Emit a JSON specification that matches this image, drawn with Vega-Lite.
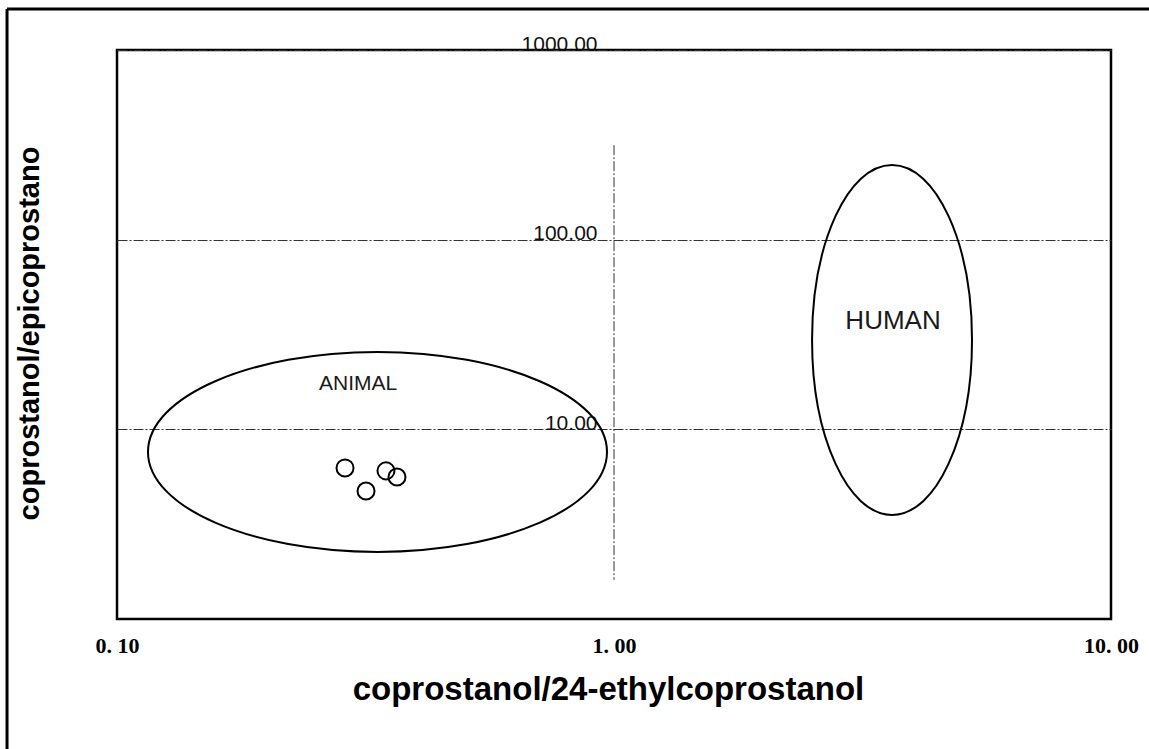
{
  "$schema": "https://vega.github.io/schema/vega-lite/v6.json",
  "width": 994,
  "height": 569,
  "autosize": {"type": "none"},
  "padding": {"left": 117, "top": 50, "right": 38, "bottom": 130},
  "background": "white",
  "config": {
    "view": {"stroke": "#000000", "strokeWidth": 2.5},
    "font": "Liberation Sans"
  },
  "datasets": {
    "points": [
      {"ratio_ethyl": 0.2876, "ratio_epi": 6.26},
      {"ratio_ethyl": 0.3170, "ratio_epi": 4.73},
      {"ratio_ethyl": 0.3477, "ratio_epi": 6.04},
      {"ratio_ethyl": 0.3659, "ratio_epi": 5.61}
    ],
    "regions": [
      {"region": "ANIMAL", "cx": 0.3343, "cy": 7.60, "lx": 0.3055, "ly": 17.35},
      {"region": "HUMAN", "cx": 3.626, "cy": 29.6, "lx": 3.643, "ly": 37.3}
    ],
    "vline": [
      {"x": 1, "y": 315, "y2": 1.61}
    ],
    "border": [
      {"x": 0.06008, "x2": 13, "y": 1644, "y2": 1644},
      {"x": 0.06008, "x2": 0.06008, "y": 1644, "y2": 0.15}
    ]
  },
  "layer": [
    {
      "data": {"name": "points"},
      "mark": {"type": "point", "filled": false, "stroke": "#000000", "strokeWidth": 2, "size": 290, "opacity": 1, "shape": "circle"},
      "encoding": {
        "x": {
          "field": "ratio_ethyl", "type": "quantitative",
          "scale": {"type": "log", "domain": [0.1, 10], "nice": false},
          "axis": {
            "values": [0.1, 1, 10],
            "labelExpr": "replace(format(datum.value, '.2f'), '.', '. ')",
            "grid": false, "ticks": false, "tickSize": 0, "domain": false,
            "labelFont": "Liberation Serif", "labelFontWeight": "bold", "labelFontSize": 22,
            "labelColor": "#000000", "labelBaseline": "top", "labelPadding": 16,
            "labelFlush": false, "labelOverlap": false,
            "title": "coprostanol/24-ethylcoprostanol",
            "titleFont": "Liberation Sans", "titleFontWeight": "bold", "titleFontSize": 33,
            "titleColor": "#000000", "titleBaseline": "alphabetic", "titleY": 80, "titleX": 491, "titleAlign": "center"
          }
        },
        "y": {
          "field": "ratio_epi", "type": "quantitative",
          "scale": {"type": "log", "domain": [1, 1000], "nice": false},
          "axis": {
            "values": [10, 100, 1000],
            "labelExpr": "format(datum.value, '.2f')",
            "offset": -497,
            "grid": true, "gridColor": "#333333", "gridDash": [10, 2, 2, 2], "gridWidth": 1,
            "ticks": false, "tickSize": 0, "domain": false,
            "labelFont": "Liberation Sans", "labelFontSize": 21, "labelColor": "#111111",
            "labelAlign": "right", "labelBaseline": "alphabetic", "labelPadding": 17,
            "labelFlush": false, "labelOverlap": false,
            "title": "coprostanol/epicoprostano",
            "titleFont": "Liberation Sans", "titleFontWeight": "bold", "titleFontSize": 29,
            "titleColor": "#000000", "titleAngle": -90, "titleAlign": "center", "titleBaseline": "middle",
            "titleX": -585, "titleY": 283
          }
        }
      }
    },
    {
      "data": {"name": "border"},
      "mark": {"type": "rule", "stroke": "#000000", "strokeWidth": 3, "clip": false},
      "encoding": {
        "x": {"field": "x", "type": "quantitative"},
        "x2": {"field": "x2"},
        "y": {"field": "y", "type": "quantitative"},
        "y2": {"field": "y2"}
      }
    },
    {
      "data": {"name": "vline"},
      "mark": {"type": "rule", "stroke": "#333333", "strokeWidth": 1, "strokeDash": [10, 2, 2, 2]},
      "encoding": {
        "x": {"field": "x", "type": "quantitative"},
        "y": {"field": "y", "type": "quantitative"},
        "y2": {"field": "y2"}
      }
    },
    {
      "data": {"name": "regions"},
      "transform": [{"filter": "datum.region === 'ANIMAL'"}],
      "mark": {
        "type": "point", "filled": false, "stroke": "#000000", "strokeWidth": 2, "opacity": 1,
        "size": 210681,
        "shape": "M-1,0C-1,-0.2406,-0.5523,-0.4357,0,-0.4357C0.5523,-0.4357,1,-0.2406,1,0C1,0.2406,0.5523,0.4357,0,0.4357C-0.5523,0.4357,-1,0.2406,-1,0Z"
      },
      "encoding": {
        "x": {"field": "cx", "type": "quantitative"},
        "y": {"field": "cy", "type": "quantitative"}
      }
    },
    {
      "data": {"name": "regions"},
      "transform": [{"filter": "datum.region === 'HUMAN'"}],
      "mark": {
        "type": "point", "filled": false, "stroke": "#000000", "strokeWidth": 2, "opacity": 1,
        "size": 122500,
        "shape": "M-0.457,0C-0.457,-0.5523,-0.2524,-1,0,-1C0.2524,-1,0.457,-0.5523,0.457,0C0.457,0.5523,0.2524,1,0,1C-0.2524,1,-0.457,0.5523,-0.457,0Z"
      },
      "encoding": {
        "x": {"field": "cx", "type": "quantitative"},
        "y": {"field": "cy", "type": "quantitative"}
      }
    },
    {
      "data": {"name": "regions"},
      "transform": [{"filter": "datum.region === 'ANIMAL'"}],
      "mark": {"type": "text", "font": "Liberation Sans", "fontSize": 21, "color": "#1a1a1a", "align": "center", "baseline": "middle"},
      "encoding": {
        "x": {"field": "lx", "type": "quantitative"},
        "y": {"field": "ly", "type": "quantitative"},
        "text": {"field": "region"}
      }
    },
    {
      "data": {"name": "regions"},
      "transform": [{"filter": "datum.region === 'HUMAN'"}],
      "mark": {"type": "text", "font": "Liberation Sans", "fontSize": 26, "color": "#1a1a1a", "align": "center", "baseline": "middle"},
      "encoding": {
        "x": {"field": "lx", "type": "quantitative"},
        "y": {"field": "ly", "type": "quantitative"},
        "text": {"field": "region"}
      }
    }
  ]
}
